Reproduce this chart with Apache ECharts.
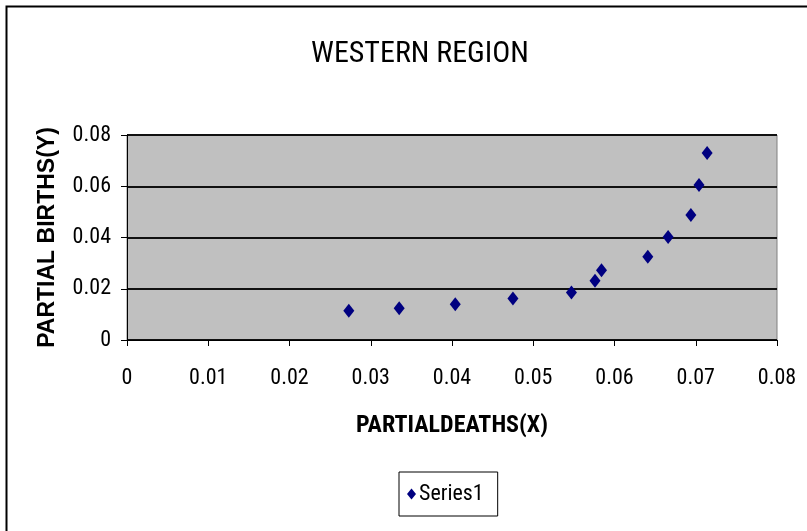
<!DOCTYPE html>
<html><head><meta charset="utf-8">
<script src="https://cdn.jsdelivr.net/npm/echarts@6/dist/echarts.min.js"></script>
<style>html,body{margin:0;padding:0;background:#fff}#c{width:807px;height:531px}</style>
</head><body><div id="c"></div>
<script>
var deathsX = [0.0273, 0.0335, 0.0404, 0.0475, 0.0547, 0.0576, 0.0584, 0.0641, 0.0666, 0.0694, 0.0704, 0.0714];
var birthsY = [0.0114, 0.0124, 0.0140, 0.0162, 0.0185, 0.0231, 0.0272, 0.0325, 0.0402, 0.0488, 0.0605, 0.0730];
var seriesName = 'Series1';
var titleText = 'WESTERN REGION';
var xName = 'PARTIALDEATHS(X)';
var yName = 'PARTIAL BIRTHS(Y)';

var pts = deathsX.map(function(x, i){ return [x, birthsY[i]]; });
var narrow = '"Roboto Condensed", "DejaVu Sans Condensed", sans-serif';
var chart = echarts.init(document.getElementById('c'));
chart.setOption({
  animation: false,
  backgroundColor: '#fff',
  graphic: [
    {type:'rect', shape:{x:6.5,y:6.5,width:900,height:900}, style:{fill:'none', stroke:'#000', lineWidth:2}, silent:true, z:-1},
    {type:'rect', shape:{x:127,y:135,width:650,height:205}, style:{fill:'none', stroke:'#808080', lineWidth:1}, silent:true, z:0}
  ],
  title: {text: titleText, left: 415, textAlign: 'center', top: 34,
    textStyle:{fontFamily: narrow, fontSize: 30, fontWeight:'normal', color:'#000'}},
  legend: {data:[seriesName], left: 399, top: 472, icon:'diamond', itemWidth:9, itemHeight:11,
    borderColor:'#000', borderWidth:1, padding:[11,14,11,8], itemGap: 4,
    textStyle:{fontFamily: narrow, fontSize:22, color:'#000', padding:[0,0,0,-2]}},
  grid: {left:127, right:30, top:135, bottom:191, show:true, backgroundColor:'#C0C0C0', borderWidth:0},
  xAxis: {type:'value', min:0, max:0.08, interval:0.01,
    name: xName, nameLocation:'middle', nameGap: 74,
    nameTextStyle:{fontFamily: narrow, fontSize:24, fontWeight:'bold', color:'#000'},
    axisLine:{show:true, lineStyle:{color:'#000'}}, axisTick:{show:true, length:6, lineStyle:{color:'#000'}},
    axisLabel:{color:'#000', fontFamily: narrow, fontSize:22, margin:27, formatter:function(v){return String(+v.toFixed(2));}},
    splitLine:{show:false}},
  yAxis: {type:'value', min:0, max:0.08, interval:0.02,
    name: yName, nameLocation:'middle', nameGap: 68,
    nameTextStyle:{fontFamily:'"Liberation Sans", Arial, sans-serif', fontSize:23, fontWeight:'bold', color:'#000'},
    axisLine:{show:true, lineStyle:{color:'#000'}}, axisTick:{show:true, length:6, lineStyle:{color:'#000'}},
    axisLabel:{color:'#000', fontFamily: narrow, fontSize:22, margin:16, formatter:function(v){return String(+v.toFixed(2));}},
    splitLine:{show:true, lineStyle:{color:'#111', width:2}}},
  series: [{name: seriesName, type:'scatter', data: pts, symbol:'diamond', symbolSize:[11,14],
    itemStyle:{color:'#000080', opacity:1}}]
});
</script></body></html>
